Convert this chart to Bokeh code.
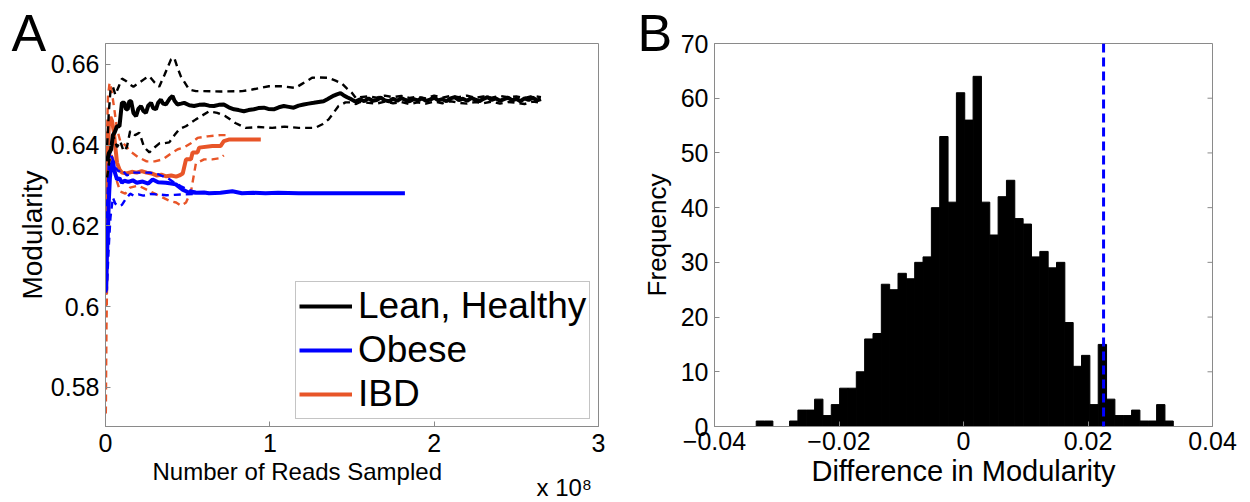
import numpy as np
from bokeh.plotting import figure
from bokeh.models import (Range1d, FixedTicker, CustomJSTickFormatter,
                          Legend, LegendItem, Title, Span)
from bokeh.layouts import row
from bokeh.embed import file_html
from bokeh.resources import INLINE

# ---------------- Panel A data (x in units of 1e8 reads) ----------------
lean_mean = [(0.010,0.6360),(0.020,0.6380),(0.034,0.6389),(0.045,0.6425),(0.055,0.6431),(0.070,0.6447),(0.085,0.6447),(0.100,0.6505),(0.115,0.6505),(0.125,0.6489),(0.135,0.6489),(0.145,0.6509),(0.156,0.6509),(0.170,0.6480),(0.186,0.6472),(0.200,0.6490),(0.216,0.6497),(0.230,0.6485),(0.246,0.6480),(0.260,0.6498),(0.277,0.6505),(0.290,0.6492),(0.307,0.6489),(0.320,0.6505),(0.337,0.6513),(0.350,0.6503),(0.368,0.6501),(0.390,0.6515),(0.408,0.6522),(0.420,0.6510),(0.438,0.6501),(0.460,0.6503),(0.479,0.6505),(0.510,0.6499),(0.539,0.6497),(0.570,0.6500),(0.600,0.6501),(0.630,0.6498),(0.660,0.6497),(0.690,0.6500),(0.720,0.6501),(0.750,0.6494),(0.782,0.6489),(0.810,0.6487),(0.842,0.6484),(0.870,0.6487),(0.903,0.6489),(0.930,0.6492),(0.964,0.6493),(0.990,0.6490),(1.024,0.6489),(1.055,0.6494),(1.085,0.6497),(1.115,0.6495),(1.145,0.6493),(1.175,0.6498),(1.206,0.6501),(1.235,0.6503),(1.267,0.6505),(1.297,0.6507),(1.327,0.6509),(1.350,0.6514),(1.368,0.6518),(1.390,0.6523),(1.408,0.6526),(1.430,0.6529),(1.448,0.6524),(1.470,0.6519),(1.490,0.6515),(1.520,0.6508),(1.550,0.6514),(1.575,0.6509),(1.600,0.6516),(1.625,0.6510),(1.650,0.6512),(1.675,0.6518),(1.700,0.6511),(1.725,0.6509),(1.750,0.6515),(1.775,0.6510),(1.800,0.6517),(1.825,0.6512),(1.850,0.6509),(1.875,0.6514),(1.900,0.6511),(1.925,0.6516),(1.950,0.6510),(1.975,0.6513),(2.000,0.6518),(2.025,0.6511),(2.050,0.6514),(2.075,0.6509),(2.100,0.6516),(2.125,0.6519),(2.150,0.6512),(2.175,0.6515),(2.200,0.6510),(2.225,0.6517),(2.250,0.6513),(2.275,0.6509),(2.300,0.6515),(2.325,0.6519),(2.350,0.6512),(2.375,0.6516),(2.400,0.6510),(2.425,0.6514),(2.450,0.6518),(2.475,0.6511),(2.500,0.6515),(2.525,0.6509),(2.550,0.6516),(2.575,0.6512),(2.600,0.6518),(2.625,0.6511),(2.650,0.6514)]
lean_upper = [(0.010,0.6400),(0.020,0.6480),(0.030,0.6535),(0.045,0.6545),(0.060,0.6525),(0.080,0.6545),(0.100,0.6565),(0.125,0.6559),(0.150,0.6550),(0.170,0.6545),(0.206,0.6555),(0.240,0.6565),(0.267,0.6571),(0.300,0.6555),(0.327,0.6545),(0.360,0.6575),(0.398,0.6612),(0.418,0.6617),(0.440,0.6590),(0.459,0.6570),(0.509,0.6538),(0.550,0.6534),(0.590,0.6534),(0.700,0.6533),(0.832,0.6534),(0.893,0.6538),(0.994,0.6546),(1.075,0.6546),(1.156,0.6542),(1.196,0.6552),(1.257,0.6567),(1.300,0.6568),(1.358,0.6567),(1.400,0.6560),(1.438,0.6553),(1.470,0.6540),(1.499,0.6530),(1.525,0.6516),(1.550,0.6519),(1.600,0.6521),(1.650,0.6518),(1.700,0.6523),(1.750,0.6519),(1.800,0.6522),(1.850,0.6517),(1.900,0.6520),(1.950,0.6516),(2.000,0.6523),(2.050,0.6518),(2.100,0.6522),(2.150,0.6519),(2.200,0.6523),(2.250,0.6517),(2.300,0.6521),(2.350,0.6518),(2.400,0.6522),(2.450,0.6519),(2.500,0.6521),(2.550,0.6517),(2.600,0.6522),(2.650,0.6519)]
lean_lower = [(0.010,0.6320),(0.020,0.6350),(0.035,0.6405),(0.050,0.6420),(0.070,0.6395),(0.090,0.6410),(0.110,0.6385),(0.130,0.6395),(0.150,0.6435),(0.180,0.6425),(0.206,0.6431),(0.235,0.6395),(0.267,0.6382),(0.300,0.6395),(0.330,0.6405),(0.360,0.6405),(0.388,0.6407),(0.420,0.6425),(0.450,0.6440),(0.489,0.6447),(0.550,0.6464),(0.630,0.6484),(0.680,0.6480),(0.730,0.6472),(0.790,0.6455),(0.853,0.6443),(0.930,0.6445),(1.014,0.6443),(1.090,0.6446),(1.176,0.6443),(1.277,0.6443),(1.320,0.6452),(1.358,0.6464),(1.418,0.6497),(1.460,0.6506),(1.497,0.6506),(1.525,0.6502),(1.550,0.6507),(1.600,0.6505),(1.650,0.6503),(1.700,0.6508),(1.750,0.6504),(1.800,0.6507),(1.850,0.6502),(1.900,0.6506),(1.950,0.6503),(2.000,0.6508),(2.050,0.6504),(2.100,0.6509),(2.150,0.6505),(2.200,0.6503),(2.250,0.6507),(2.300,0.6504),(2.350,0.6508),(2.400,0.6503),(2.450,0.6507),(2.500,0.6505),(2.550,0.6502),(2.600,0.6508),(2.650,0.6505)]

obese_mean = [(0.004,0.6040),(0.008,0.6120),(0.014,0.6174),(0.020,0.6260),(0.027,0.6320),(0.034,0.6348),(0.045,0.6361),(0.055,0.6335),(0.070,0.6315),(0.085,0.6318),(0.100,0.6307),(0.115,0.6312),(0.140,0.6309),(0.166,0.6313),(0.190,0.6307),(0.226,0.6310),(0.260,0.6305),(0.287,0.6315),(0.320,0.6308),(0.368,0.6307),(0.400,0.6305),(0.428,0.6303),(0.469,0.6290),(0.500,0.6284),(0.550,0.6282),(0.600,0.6283),(0.630,0.6281),(0.700,0.6282),(0.772,0.6286),(0.830,0.6281),(0.900,0.6282),(0.974,0.6281),(1.050,0.6282),(1.176,0.6281),(1.300,0.6281),(1.450,0.6281),(1.600,0.6281),(1.700,0.6281),(1.822,0.6281)]
obese_upper = [(0.004,0.6100),(0.010,0.6250),(0.020,0.6360),(0.030,0.6385),(0.040,0.6370),(0.060,0.6345),(0.080,0.6335),(0.100,0.6340),(0.130,0.6325),(0.170,0.6332),(0.220,0.6332),(0.270,0.6332),(0.320,0.6328),(0.380,0.6318),(0.420,0.6307),(0.460,0.6298),(0.500,0.6290),(0.550,0.6284)]
obese_lower = [(0.004,0.6035),(0.010,0.6060),(0.020,0.6150),(0.030,0.6220),(0.045,0.6270),(0.060,0.6255),(0.080,0.6249),(0.100,0.6252),(0.120,0.6265),(0.150,0.6280),(0.170,0.6275),(0.200,0.6278),(0.230,0.6275),(0.270,0.6279),(0.320,0.6278),(0.370,0.6276),(0.420,0.6277),(0.470,0.6278),(0.550,0.6279)]

ibd_mean = [(0.003,0.6030),(0.006,0.6150),(0.010,0.6290),(0.015,0.6380),(0.020,0.6450),(0.030,0.6470),(0.040,0.6460),(0.050,0.6435),(0.060,0.6395),(0.070,0.6357),(0.085,0.6340),(0.100,0.6332),(0.130,0.6330),(0.160,0.6334),(0.190,0.6332),(0.220,0.6336),(0.250,0.6332),(0.280,0.6330),(0.310,0.6325),(0.340,0.6327),(0.370,0.6323),(0.400,0.6325),(0.430,0.6322),(0.450,0.6325),(0.470,0.6330),(0.490,0.6365),(0.520,0.6365),(0.530,0.6382),(0.560,0.6382),(0.570,0.6394),(0.650,0.6398),(0.700,0.6398),(0.720,0.6410),(0.750,0.6414),(0.850,0.6414),(0.945,0.6414)]
ibd_upper = [(0.002,0.6000),(0.004,0.6200),(0.008,0.6400),(0.015,0.6520),(0.025,0.6555),(0.035,0.6540),(0.050,0.6500),(0.070,0.6440),(0.090,0.6410),(0.120,0.6400),(0.150,0.6385),(0.200,0.6370),(0.250,0.6360),(0.300,0.6360),(0.350,0.6365),(0.400,0.6380),(0.440,0.6390),(0.480,0.6395),(0.520,0.6405),(0.560,0.6418),(0.620,0.6422),(0.700,0.6425),(0.750,0.6425)]
ibd_lower = [(0.002,0.5735),(0.004,0.5850),(0.006,0.5950),(0.010,0.6070),(0.015,0.6180),(0.020,0.6270),(0.030,0.6350),(0.040,0.6380),(0.050,0.6360),(0.070,0.6310),(0.090,0.6285),(0.120,0.6280),(0.150,0.6295),(0.200,0.6300),(0.250,0.6290),(0.300,0.6280),(0.350,0.6270),(0.390,0.6262),(0.430,0.6258),(0.460,0.6250),(0.490,0.6258),(0.520,0.6285),(0.550,0.6355),(0.600,0.6365),(0.650,0.6365),(0.700,0.6368),(0.720,0.6375)]

a_xticks = [0, 1, 2, 3]
a_yticks = [0.58, 0.60, 0.62, 0.64, 0.66]
legend_labels = ["Lean, Healthy", "Obese", "IBD"]

# ---------------- Panel B data ----------------
hist_counts = [1,1,0,0,1,3,3,5,2,4,7,7,10,16,17,26,25,28,27,30,31,40,53,41,61,56,64,
               41,35,42,45,38,37,31,32,29,30,19,11,13,4,15,5,2,2,3,1,1,4,1]
hist_min, hist_max = -0.0333, 0.0337
observed_diff = 0.0225
b_xticks = [-0.04, -0.02, 0.0, 0.02, 0.04]
b_yticks = [0, 10, 20, 30, 40, 50, 60, 70]

FONT = "Liberation Sans"
GRAY = "#8a8a8a"
BLUE = "#0000FF"
ORANGE = "#E85528"
TICK_FS = "25px"

fmt = CustomJSTickFormatter(code="return Number(tick.toFixed(2)).toString().replace('-', '\\u2212');")


def style_axes(p, label_fs):
    p.xgrid.grid_line_color = None
    p.ygrid.grid_line_color = None
    p.outline_line_color = GRAY
    p.outline_line_width = 1
    p.background_fill_color = "white"
    p.border_fill_color = "white"
    for ax in p.axis:
        ax.axis_line_color = GRAY
        ax.major_tick_line_color = GRAY
        ax.major_tick_in = 5
        ax.major_tick_out = 0
        ax.minor_tick_line_color = None
        ax.major_label_text_font = FONT
        ax.major_label_text_font_size = TICK_FS
        ax.major_label_text_color = "black"
        ax.axis_label_text_font = FONT
        ax.axis_label_text_font_size = label_fs
        ax.axis_label_text_font_style = "normal"
        ax.axis_label_text_color = "black"


def xy(pairs):
    a = np.array(pairs)
    return a[:, 0], a[:, 1]


def text_title(text, size, offset, standoff):
    return Title(text=text, align="left", vertical_align="middle", offset=offset,
                 standoff=standoff, text_font=FONT, text_font_size=size,
                 text_font_style="normal", text_color="black")


# ================= Panel A =================
pA = figure(width=619, height=500, x_range=Range1d(0, 3), y_range=Range1d(0.5703, 0.6652),
            output_backend="svg", toolbar_location=None,
            min_border_left=105, min_border_right=21, min_border_top=43, min_border_bottom=74)
pA.xaxis.ticker = FixedTicker(ticks=a_xticks)
pA.yaxis.ticker = FixedTicker(ticks=a_yticks)
pA.xaxis.formatter = fmt
pA.yaxis.formatter = fmt
style_axes(pA, "28px")
pA.xaxis.major_label_standoff = 7
pA.yaxis.major_label_standoff = 6
pA.yaxis.axis_label = "Modularity"
pA.yaxis.axis_label_standoff = 0

DASH = "7 5"
mean_renderers = []
for series, col in [((ibd_mean, ibd_upper, ibd_lower), ORANGE),
                    ((obese_mean, obese_upper, obese_lower), BLUE),
                    ((lean_mean, lean_upper, lean_lower), "black")]:
    m, u, l = series
    for bound in (u, l):
        bx, by = xy(bound)
        pA.line(bx, by, line_color=col, line_width=2.4, line_dash=DASH)
    mx, my = xy(m)
    mean_renderers.append(pA.line(mx, my, line_color=col, line_width=4))
r_ibd, r_obese, r_lean = mean_renderers

legend = Legend(items=[LegendItem(label=legend_labels[0], renderers=[r_lean]),
                       LegendItem(label=legend_labels[1], renderers=[r_obese]),
                       LegendItem(label=legend_labels[2], renderers=[r_ibd])],
                location=(190, 7), orientation="vertical",
                label_text_font=FONT, label_text_font_size="37px", label_text_color="black",
                border_line_color=GRAY, border_line_width=1, background_fill_color="white",
                background_fill_alpha=1.0, glyph_width=53, glyph_height=40, label_height=40,
                spacing=2, padding=3, margin=0, label_standoff=6)
pA.add_layout(legend)

pA.add_layout(text_title("A", "52px", -94, -38), "above")
pA.add_layout(text_title("Number of Reads Sampled", "24px", 47, 4), "below")
pA.add_layout(text_title("x 10\u2078", "24px", 431, -29), "below")

# ================= Panel B =================
pB = figure(width=629, height=500, x_range=Range1d(-0.04, 0.04), y_range=Range1d(0, 70),
            output_backend="svg", toolbar_location=None,
            min_border_left=95, min_border_right=36, min_border_top=43, min_border_bottom=72)
edges = np.linspace(hist_min, hist_max, len(hist_counts) + 1)
pB.quad(left=edges[:-1], right=edges[1:], bottom=0, top=hist_counts,
        fill_color="black", line_color="black", line_width=1)
pB.add_layout(Span(location=observed_diff, dimension="height", line_color=BLUE,
                   line_width=3, line_dash="9 5"))
# inward tick marks on the right edge of the box, at the y ticks
n_t = len(b_yticks)
pB.segment(x0=[b_xticks[-1]] * n_t, y0=b_yticks, x1=[b_xticks[-1] - 0.0008] * n_t, y1=b_yticks,
           line_color=GRAY, line_width=1)
pB.xaxis.ticker = FixedTicker(ticks=b_xticks)
pB.yaxis.ticker = FixedTicker(ticks=b_yticks)
pB.xaxis.formatter = fmt
pB.yaxis.formatter = fmt
style_axes(pB, "26px")
pB.xaxis.axis_label_text_font_size = "29px"
pB.xaxis.major_label_standoff = 5
pB.yaxis.major_label_standoff = 6
pB.xaxis.axis_label = "Difference in Modularity"
pB.xaxis.axis_label_standoff = 2
pB.yaxis.axis_label = "Frequency"
pB.yaxis.axis_label_standoff = 6

pB.add_layout(text_title("B", "52px", -77, -38), "above")

layout = row(pA, pB)
open("out.html", "w").write(file_html(layout, INLINE))
